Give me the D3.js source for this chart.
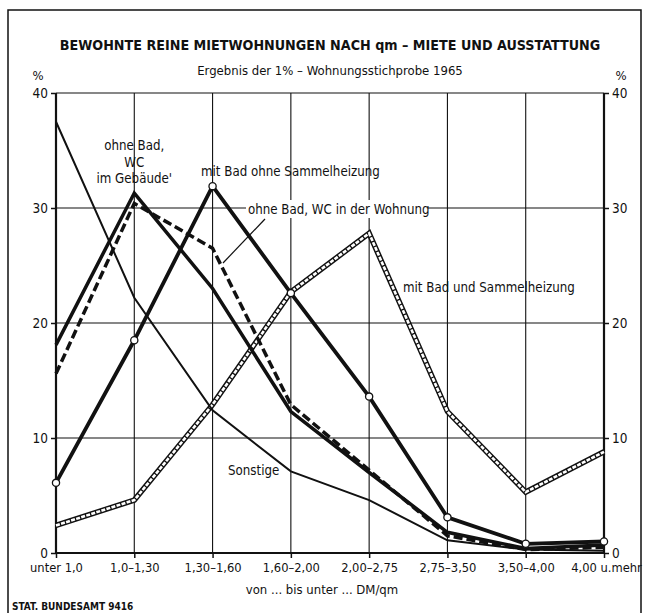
<!DOCTYPE html>
<html>
<head>
<meta charset="utf-8">
<script src="https://cdn.jsdelivr.net/npm/d3@7"></script>
<style>
  body { margin: 0; background: #fff; }
  text { font-family: "Liberation Sans Narrow", "DejaVu Sans Condensed", "Roboto Condensed", sans-serif; fill: #111; }
</style>
</head>
<body>
<div id="viz"></div>
<script>
const w = 645;
const h = 615;

const categories = ['unter 1,0', '1,0–1,30', '1,30–1,60', '1,60–2,00', '2,00–2,75', '2,75–3,50', '3,50–4,00', '4,00 u.mehr'];
const sonstige = [37.5, 22.2, 12.4, 7.1, 4.6, 1.1, 0.3, 0.2];
const ohneBadWcGebaeude = [18.1, 31.3, 23.0, 12.3, 7.0, 1.8, 0.4, 0.7];
const ohneBadWcWohnung = [15.6, 30.4, 26.5, 12.9, 7.2, 1.5, 0.3, 0.5];
const mitBadOhneSH = [6.1, 18.5, 31.9, 22.6, 13.6, 3.1, 0.8, 1.0];
const mitBadUndSH = [2.4, 4.6, 12.9, 22.7, 27.8, 12.3, 5.3, 8.8];
const yTicks = [0, 10, 20, 30, 40];

const margin = {left: 56, right: 41, top: 93, bottom: 62};

const svg = d3.select('#viz').append('svg')
    .attr('width', w)
    .attr('height', h)

const x = d3.scalePoint()
    .domain(categories)
    .range([margin.left, w - margin.right])

const y = d3.scaleLinear()
    .domain([0, 40])
    .range([h - margin.bottom, margin.top])

// outer frame
svg.append('path')
    .attr('d', `M8,613 V10 H641 V613`)
    .attr('fill', 'none')
    .attr('stroke', '#111')
    .attr('stroke-width', 1.5)

svg.append('text')
    .attr('x', 330).attr('y', 50)
    .attr('text-anchor', 'middle')
    .attr('font-size', 14.2)
    .attr('font-weight', 'bold')
    .text('BEWOHNTE REINE MIETWOHNUNGEN NACH qm – MIETE UND AUSSTATTUNG')

svg.append('text')
    .attr('x', 330).attr('y', 75)
    .attr('text-anchor', 'middle')
    .attr('font-size', 13)
    .text('Ergebnis der 1% – Wohnungsstichprobe 1965')

// grid
const grid = svg.append('g').attr('stroke', '#111').attr('stroke-width', 1.1)
grid.selectAll('.v').data(categories).join('line')
    .attr('x1', d => x(d)).attr('x2', d => x(d))
    .attr('y1', y(0)).attr('y2', y(40))
grid.selectAll('.h').data(yTicks.slice(1)).join('line')
    .attr('x1', x.range()[0]).attr('x2', x.range()[1])
    .attr('y1', d => y(d)).attr('y2', d => y(d))

// axes
const leftAxis = svg.append('g')
    .attr('transform', `translate(${margin.left},0)`)
    .call(d3.axisLeft(y).tickValues(yTicks).tickSize(5).tickPadding(3))
const rightAxis = svg.append('g')
    .attr('transform', `translate(${w - margin.right},0)`)
    .call(d3.axisRight(y).tickValues(yTicks).tickSize(5).tickPadding(3))
const bottomAxis = svg.append('g')
    .attr('transform', `translate(0,${y(0)})`)
    .call(d3.axisBottom(x).tickSize(5).tickPadding(5))

for (const a of [leftAxis, rightAxis, bottomAxis]) {
    a.select('.domain').attr('stroke', '#111').attr('stroke-width', 2.2)
    a.selectAll('.tick line').attr('stroke', '#111').attr('stroke-width', 1.5)
    a.selectAll('text').attr('font-size', 13.5).attr('fill', '#111')
}
leftAxis.select('.domain').attr('d', `M0,${y(0)}V${y(40)}`)
rightAxis.select('.domain').attr('d', `M0,${y(0)}V${y(40)}`)
bottomAxis.select('.domain').attr('d', `M${x.range()[0]},0H${x.range()[1]}`)
bottomAxis.selectAll('.tick text')
    .attr('font-size', 12.8)
    .attr('dx', (d, i) => i === categories.length - 1 ? 2 : 0)

svg.append('text').attr('x', 38).attr('y', 80).attr('text-anchor', 'middle').attr('font-size', 13).text('%')
svg.append('text').attr('x', 621).attr('y', 80).attr('text-anchor', 'middle').attr('font-size', 13).text('%')

svg.append('text')
    .attr('x', 322).attr('y', 594)
    .attr('text-anchor', 'middle')
    .attr('font-size', 13)
    .text('von ... bis unter ... DM/qm')

svg.append('text')
    .attr('x', 12).attr('y', 610)
    .attr('font-size', 10)
    .attr('font-weight', 'bold')
    .text('STAT. BUNDESAMT 9416')

const line = d3.line()
    .x((d, i) => x(categories[i]))
    .y(d => y(d))

const lines = svg.append('g').attr('fill', 'none').attr('stroke-linejoin', 'miter')

// mit Bad und Sammelheizung (double line)
lines.append('path').datum(mitBadUndSH)
    .attr('d', line).attr('stroke', '#111').attr('stroke-width', 5.5)
lines.append('path').datum(mitBadUndSH)
    .attr('d', line).attr('stroke', '#fff').attr('stroke-width', 2.6)
    .attr('stroke-dasharray', '4,1.3')

lines.append('path').datum(sonstige)
    .attr('d', line).attr('stroke', '#111').attr('stroke-width', 2)

lines.append('path').datum(ohneBadWcGebaeude)
    .attr('d', line).attr('stroke', '#111').attr('stroke-width', 3.5)

lines.append('path').datum(ohneBadWcWohnung)
    .attr('d', line).attr('stroke', '#111').attr('stroke-width', 3.5)
    .attr('stroke-dasharray', '9,4')

lines.append('path').datum(mitBadOhneSH)
    .attr('d', line).attr('stroke', '#111').attr('stroke-width', 3.8)

svg.append('g').selectAll('circle').data(mitBadOhneSH).join('circle')
    .attr('cx', (d, i) => x(categories[i]))
    .attr('cy', d => y(d))
    .attr('r', 3.6)
    .attr('fill', '#fff')
    .attr('stroke', '#111')
    .attr('stroke-width', 1.3)

// labels
const lab = svg.append('g').attr('font-size', 13.2)

lab.append('text').attr('x', x(categories[1])).attr('text-anchor', 'middle')
    .selectAll('tspan').data(['ohne Bad,', 'WC', "im Gebäude'"]).join('tspan')
    .attr('x', x(categories[1]))
    .attr('y', (d, i) => 150 + i * 16.5)
    .text(d => d)

lab.append('text').attr('x', 201).attr('y', 176).text('mit Bad ohne Sammelheizung')

lab.append('line')
    .attr('x1', 265).attr('y1', 219).attr('x2', 223).attr('y2', 263)
    .attr('stroke', '#111').attr('stroke-width', 1.2)
lab.append('rect')
    .attr('x', 246).attr('y', 200).attr('width', 182).attr('height', 18)
    .attr('fill', '#fff')
lab.append('text').attr('x', 248).attr('y', 214).text('ohne Bad, WC in der Wohnung')

lab.append('text').attr('x', 403).attr('y', 292).text('mit Bad und Sammelheizung')

lab.append('text').attr('x', 228).attr('y', 475).text('Sonstige')
</script>
</body>
</html>
